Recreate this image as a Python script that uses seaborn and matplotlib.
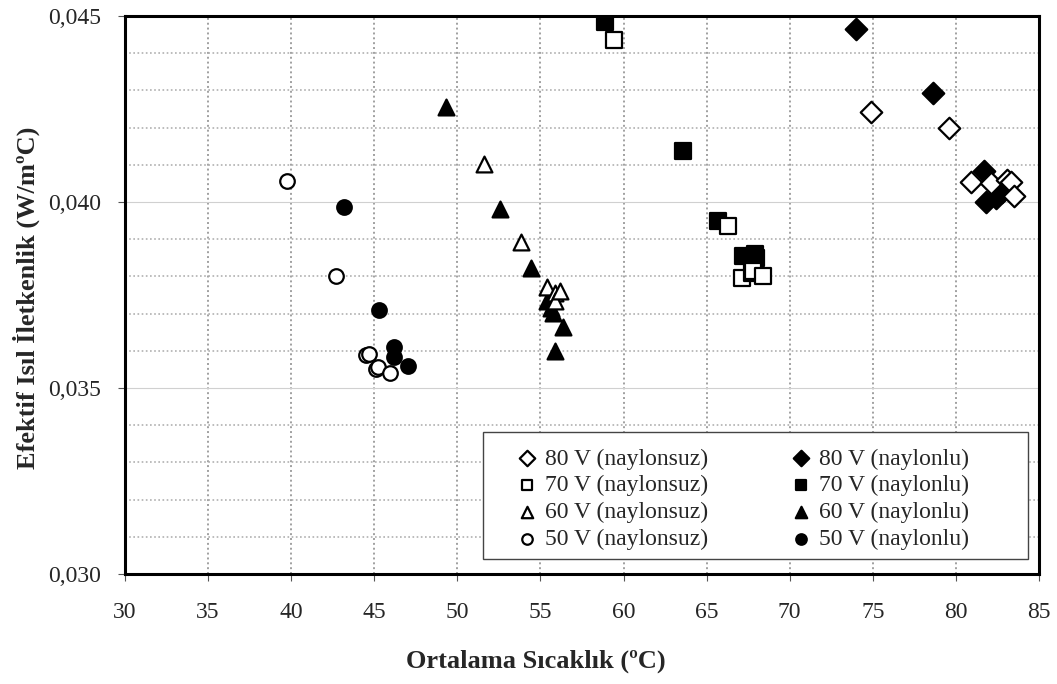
import matplotlib
matplotlib.use("Agg")
import matplotlib.pyplot as plt
import seaborn as sns
import pandas as pd
from matplotlib.ticker import FuncFormatter, FixedLocator
from matplotlib.patches import Rectangle

# ---- data ----
x_80_naylonsuz = [74.9, 79.6, 80.9, 82.1, 83.1, 83.3, 83.5]
y_80_naylonsuz = [0.04241, 0.04200, 0.04055, 0.04050, 0.04058, 0.04055, 0.04015]
x_80_naylonlu = [74.0, 78.6, 81.7, 81.8, 82.4, 82.8]
y_80_naylonlu = [0.04464, 0.04293, 0.04082, 0.03999, 0.04012, 0.04028]

x_70_naylonsuz = [59.4, 66.3, 67.1, 67.7, 67.8, 68.4]
y_70_naylonsuz = [0.04436, 0.03936, 0.03797, 0.03808, 0.03815, 0.03802]
x_70_naylonlu = [58.9, 63.6, 65.7, 67.2, 67.9, 68.0]
y_70_naylonlu = [0.04483, 0.04136, 0.03950, 0.03856, 0.03859, 0.03850]

x_60_naylonsuz = [51.6, 53.8, 55.4, 55.9, 55.9, 56.2]
y_60_naylonsuz = [0.04103, 0.03893, 0.03772, 0.03755, 0.03735, 0.03762]
x_60_naylonlu = [49.3, 52.55, 54.46, 55.38, 55.62, 55.78, 56.35, 55.87]
y_60_naylonlu = [0.04255, 0.03980, 0.03823, 0.03735, 0.03716, 0.03702, 0.03665, 0.03599]

x_50_naylonsuz = [39.76, 42.70, 44.50, 44.67, 45.10, 45.24, 45.96]
y_50_naylonsuz = [0.04057, 0.03801, 0.03590, 0.03592, 0.03552, 0.03557, 0.03541]
x_50_naylonlu = [43.16, 45.27, 46.20, 46.17, 47.01]
y_50_naylonlu = [0.03987, 0.03711, 0.03610, 0.03583, 0.03559]

x_ticks = [30, 35, 40, 45, 50, 55, 60, 65, 70, 75, 80, 85]
y_ticks = [0.030, 0.035, 0.040, 0.045]

series = [
    ("80 V (naylonsuz)", x_80_naylonsuz, y_80_naylonsuz),
    ("70 V (naylonsuz)", x_70_naylonsuz, y_70_naylonsuz),
    ("60 V (naylonsuz)", x_60_naylonsuz, y_60_naylonsuz),
    ("50 V (naylonsuz)", x_50_naylonsuz, y_50_naylonsuz),
    ("80 V (naylonlu)", x_80_naylonlu, y_80_naylonlu),
    ("70 V (naylonlu)", x_70_naylonlu, y_70_naylonlu),
    ("60 V (naylonlu)", x_60_naylonlu, y_60_naylonlu),
    ("50 V (naylonlu)", x_50_naylonlu, y_50_naylonlu),
]
frames = [pd.DataFrame({"x": xs, "y": ys, "seri": name}) for name, xs, ys in series]
df = pd.concat(frames, ignore_index=True)

styles = {
    "80 V (naylonsuz)": dict(marker="D", s=120, fc="white"),
    "70 V (naylonsuz)": dict(marker="s", s=120, fc="white"),
    "60 V (naylonsuz)": dict(marker="^", s=130, fc="white"),
    "50 V (naylonsuz)": dict(marker="o", s=110, fc="white"),
    "80 V (naylonlu)": dict(marker="D", s=120, fc="black"),
    "70 V (naylonlu)": dict(marker="s", s=120, fc="black"),
    "60 V (naylonlu)": dict(marker="^", s=130, fc="black"),
    "50 V (naylonlu)": dict(marker="o", s=110, fc="black"),
}

sns.set_theme(style="white")
plt.rcParams["font.family"] = ["Liberation Serif", "DejaVu Serif"]

fig = plt.figure(figsize=(10.57, 6.84), dpi=100)
ax = fig.add_axes([125 / 1057, 1 - 574 / 684, (1039 - 125) / 1057, (574 - 16) / 684])

draw_order = [s[0] for s in series[4:]] + [s[0] for s in series[:4]]
for name in draw_order:
    st = styles[name]
    sub = df[df["seri"] == name]
    sns.scatterplot(data=sub, x="x", y="y", ax=ax, marker=st["marker"], s=st["s"],
                    color=st["fc"], edgecolor="black", linewidth=1.6, label=name,
                    zorder=3, legend=True)

ax.set_xlim(30, 85)
ax.set_ylim(0.030, 0.045)
ax.set_xticks(x_ticks)
ax.set_yticks(y_ticks)
ax.yaxis.set_minor_locator(FixedLocator([0.030 + 0.001 * i for i in range(16) if i % 5 != 0]))
ax.yaxis.set_major_formatter(FuncFormatter(lambda v, p: f"{v:.3f}".replace(".", ",")))

ax.xaxis.grid(True, which="major", linestyle=(0, (1, 1.5)), color="#a0a0a0", linewidth=1.4)
ax.yaxis.grid(True, which="minor", linestyle=(0, (1, 1.5)), color="#b0b0b0", linewidth=1.2)
ax.yaxis.grid(True, which="major", linestyle="-", color="#d0d0d0", linewidth=0.8)
ax.set_axisbelow(True)

for sp in ax.spines.values():
    sp.set_color("black")
    sp.set_linewidth(2.2)

ax.tick_params(axis="both", which="major", direction="out", length=5, width=0.8,
               color="#555555", labelsize=17, bottom=True, left=True)
ax.tick_params(axis="x", pad=15)
ax.tick_params(axis="y", pad=12)
ax.tick_params(axis="y", which="minor", length=0, left=False)

ax.set_xlabel("Ortalama Sıcaklık (ºC)", fontsize=19, fontweight="bold")
ax.set_ylabel("Efektif Isıl İletkenlik (W/mºC)", fontsize=19, fontweight="bold")
ax.xaxis.set_label_coords(0.449, -0.136)
ax.yaxis.set_label_coords(-0.093, 0.495)

# legend frame (Excel-like box)
W, H = 914.0, 558.0
box = Rectangle(((482.7 - 125) / W, (574 - 559.3) / H),
                (1027.7 - 482.7) / W, (559.3 - 432.3) / H,
                transform=ax.transAxes, facecolor="white", edgecolor="#444444",
                linewidth=1.0, zorder=4.5, clip_on=False)
ax.add_patch(box)

h, l = ax.get_legend_handles_labels()
order = [l.index(s[0]) for s in series]
leg = ax.legend([h[i] for i in order], [l[i] for i in order], ncol=2,
                loc="upper left", bbox_to_anchor=((515 - 125) / W, (574 - 448) / H),
                borderaxespad=0, borderpad=0, fontsize=17, frameon=False,
                markerscale=0.72, handlelength=1.0, handletextpad=0.26,
                columnspacing=3.45, labelspacing=0.23)
leg.set_zorder(6)

fig.savefig("out.png", dpi=100)
